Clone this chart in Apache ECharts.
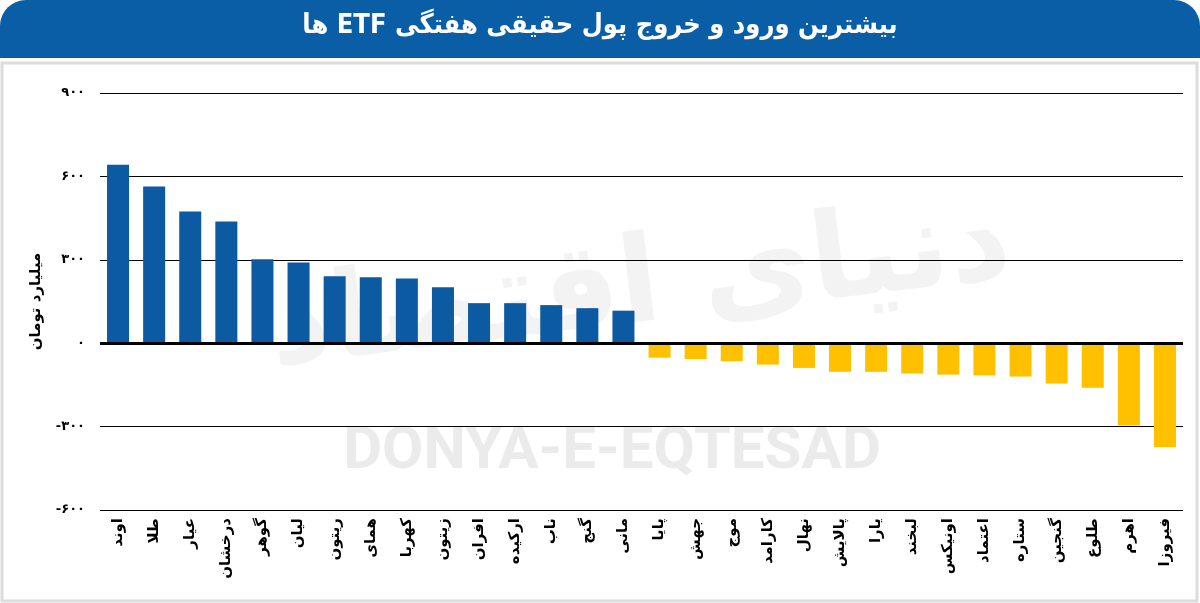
<!DOCTYPE html>
<html>
<head>
<meta charset="utf-8">
<script src="https://cdn.jsdelivr.net/npm/echarts@6/dist/echarts.min.js"></script>
<style>
html,body{margin:0;padding:0;background:#fff;}
#chart{width:1200px;height:603px;}
</style>
</head>
<body>
<div id="chart"></div>
<script>
const titleText = 'بیشترین ورود و خروج پول حقیقی هفتگی ETF ها';
const yAxisName = 'میلیارد تومان';
const categories = ['اوند','طلا','عیار','درخشان','گوهر','لیان','ریتون','همای','کهربا','زیتون','افران','ارکیده','ناب','گنج','مانی','پایا','جهش','موج','کارامد','نهال','پالایش','یارا','لبخند','اونیکس','اعتماد','ستاره','گنجین','طلوع','اهرم','فیروزا'];
const inflowValues = [642,564,474,438,302,290,241,237,233,201,144,144,137,126,117,null,null,null,null,null,null,null,null,null,null,null,null,null,null,null];
const outflowValues = [null,null,null,null,null,null,null,null,null,null,null,null,null,null,null,-52,-57,-65,-77,-89,-103,-103,-109,-113,-116,-120,-145,-160,-296,-373];
const yTicks = [-600,-300,0,300,600,900];
const yTickLabels = ['-۶۰۰','-۳۰۰','۰','۳۰۰','۶۰۰','۹۰۰'];

const chart = echarts.init(document.getElementById('chart'));
const FONT = 'DejaVu Sans';
chart.setOption({
  animation:false,
  backgroundColor:'#fff',
  graphic:[
    {type:'rect', shape:{x:0,y:0,width:1200,height:58,r:[26,26,0,0]}, style:{fill:'#0A5EA6'}, z:0},
    {type:'rect', shape:{x:2,y:63,width:1195,height:538}, style:{fill:'none',stroke:'#DCDCDC',lineWidth:3}, z:0},
    {type:'text', left:'center', top:12, style:{text:'\u202B' + titleText + '\u202C', fill:'#fff', font:'bold 27px "DejaVu Sans Condensed", "DejaVu Sans"'}, z:5},
    {type:'text', x:612, y:453, style:{text:'DONYA-E-EQTESAD', fill:'#EBEBEB', font:'bold 60px "Roboto"', align:'center', verticalAlign:'middle'}, z:-1, silent:true},
    {type:'text', x:640, y:290, rotation:0.12, style:{text:'\u202Bدنیای اقتصاد\u202C', fill:'#F3F3F3', font:'bold 120px "DejaVu Sans"', align:'center', verticalAlign:'middle'}, z:-1, silent:true}
  ],
  grid:{left:100,right:17,top:93,bottom:93,containLabel:false},
  xAxis:{
    type:'category', data:categories, position:'bottom',
    axisLine:{show:false, onZero:false}, axisTick:{show:false},
    axisLabel:{rotate:90, interval:0, margin:8, color:'#000', fontFamily:FONT, fontWeight:'bold', fontSize:15}
  },
  yAxis:{
    type:'value', min:-600, max:900, interval:300,
    name:yAxisName, nameLocation:'middle', nameRotate:90, nameGap:56,
    nameTextStyle:{color:'#000', fontFamily:FONT, fontWeight:'bold', fontSize:15},
    axisLine:{show:false}, axisTick:{show:false},
    axisLabel:{margin:15, color:'#000', fontFamily:FONT, fontWeight:'bold', fontSize:13,
      formatter:function(v){const i=yTicks.indexOf(v); return i>=0?yTickLabels[i]:'';}},
    splitLine:{show:true, lineStyle:{color:'#000', width:1.2}}
  },
  series:[
    {type:'bar', stack:'s', data:inflowValues, barWidth:'61%', itemStyle:{color:'#0B5AA2'},
     markLine:{silent:true, symbol:'none', label:{show:false}, lineStyle:{color:'#000', width:3, type:'solid'}, data:[{yAxis:0}]}, z:3},
    {type:'bar', stack:'s', data:outflowValues, barWidth:'61%', itemStyle:{color:'#FFC000'}, z:3}
  ]
});
</script>
</body>
</html>
